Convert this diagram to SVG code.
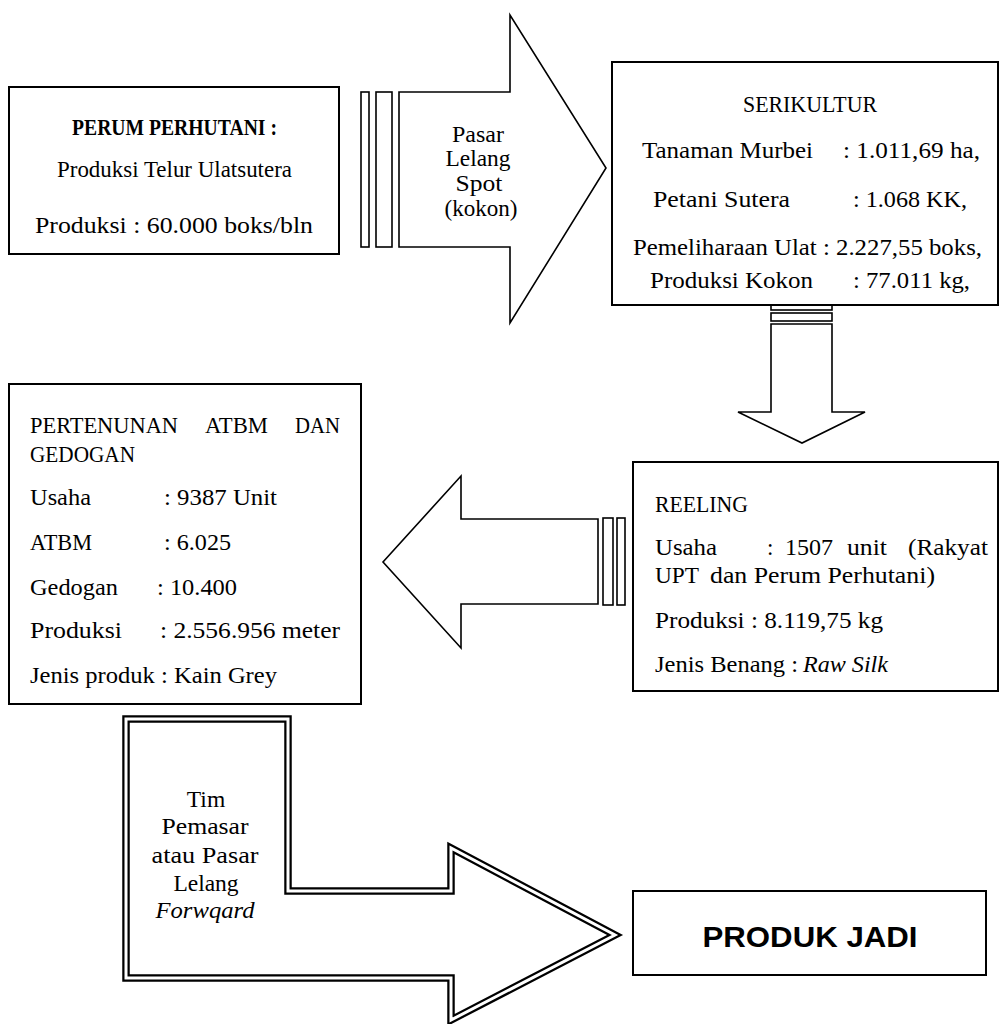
<svg xmlns="http://www.w3.org/2000/svg" width="1000" height="1024" viewBox="0 0 1000 1024">
<style>
.box{fill:#fff;stroke:#000;stroke-width:2}
.arr{fill:#fff;stroke:#000;stroke-width:1.6;stroke-linejoin:miter}
.t{font-family:"Liberation Serif","Times New Roman",serif;font-size:23px;fill:#000}
.lbl{font-family:"Liberation Serif","Times New Roman",serif;font-size:23.5px;fill:#000;text-anchor:middle}
</style>
<rect width="1000" height="1024" fill="#fff"/>
<g id="connectors">
  <g id="arrow-perum-serikultur">
    <rect class="arr" x="361" y="92" width="8" height="155"/>
    <rect class="arr" x="376" y="92" width="16" height="155"/>
    <polygon class="arr" points="399,92 510,92 510,15 606,168 510,323 510,247 399,247"/>
    <text class="lbl" x="478" y="142" textLength="52" lengthAdjust="spacingAndGlyphs">Pasar</text>
    <text class="lbl" x="478" y="166" textLength="65" lengthAdjust="spacingAndGlyphs">Lelang</text>
    <text class="lbl" x="479" y="191" textLength="47" lengthAdjust="spacingAndGlyphs">Spot</text>
    <text class="lbl" x="481" y="216" textLength="73" lengthAdjust="spacingAndGlyphs">(kokon)</text>
  </g>
  <g id="arrow-serikultur-reeling">
    <rect class="arr" x="771" y="304" width="61" height="6"/>
    <rect class="arr" x="771" y="313" width="61" height="8"/>
    <polygon class="arr" points="771,324 832,324 832,412 865,412 802,443 738,412 771,412"/>
  </g>
  <g id="arrow-reeling-pertenunan">
    <rect class="arr" x="603" y="518" width="10" height="87"/>
    <rect class="arr" x="617" y="518" width="8" height="87"/>
    <polygon class="arr" points="598,519 461,519 461,476 383,562 461,648 461,604 598,604"/>
  </g>
  <g id="arrow-pertenunan-produk">
    <polygon points="126,719 288,719 288,891 451,891 451,848 615,935 451,1020 451,978 126,978" fill="#fff" stroke="#000" stroke-width="7.5" stroke-linejoin="miter"/>
    <polygon points="126,719 288,719 288,891 451,891 451,848 615,935 451,1020 451,978 126,978" fill="none" stroke="#fff" stroke-width="3" stroke-linejoin="miter"/>
    <text class="lbl" x="206" y="807">Tim</text>
    <text class="lbl" x="205" y="834" textLength="87" lengthAdjust="spacingAndGlyphs">Pemasar</text>
    <text class="lbl" x="205" y="863" textLength="107" lengthAdjust="spacingAndGlyphs">atau Pasar</text>
    <text class="lbl" x="206" y="891">Lelang</text>
    <text class="lbl" x="205" y="918" font-style="italic" textLength="99" lengthAdjust="spacingAndGlyphs">Forwqard</text>
  </g>
</g>
<g id="perum-perhutani">
  <rect class="box" x="9" y="87" width="330" height="167"/>
  <text class="t" x="72" y="135" font-size="18.5" font-weight="bold" textLength="205" lengthAdjust="spacingAndGlyphs">PERUM PERHUTANI :</text>
  <text class="t" x="57" y="177" font-size="20.5" textLength="235" lengthAdjust="spacingAndGlyphs">Produksi Telur Ulatsutera</text>
  <text class="t" x="35" y="233" font-size="24" textLength="278" lengthAdjust="spacingAndGlyphs">Produksi : 60.000 boks/bln</text>
</g>
<g id="serikultur">
  <rect class="box" x="612" y="62" width="386" height="243"/>
  <text class="t" x="743" y="112" textLength="134" lengthAdjust="spacingAndGlyphs">SERIKULTUR</text>
  <text class="t" x="642" y="158" textLength="171" lengthAdjust="spacingAndGlyphs">Tanaman Murbei</text>
  <text class="t" x="843" y="158" textLength="137" lengthAdjust="spacingAndGlyphs">: 1.011,69 ha,</text>
  <text class="t" x="653" y="207" textLength="137" lengthAdjust="spacingAndGlyphs">Petani Sutera</text>
  <text class="t" x="853" y="207" textLength="114" lengthAdjust="spacingAndGlyphs">: 1.068 KK,</text>
  <text class="t" x="633" y="255" textLength="349" lengthAdjust="spacingAndGlyphs">Pemeliharaan Ulat : 2.227,55 boks,</text>
  <text class="t" x="650" y="288" textLength="163" lengthAdjust="spacingAndGlyphs">Produksi Kokon</text>
  <text class="t" x="853" y="288" textLength="117" lengthAdjust="spacingAndGlyphs">: 77.011 kg,</text>
</g>
<g id="reeling">
  <rect class="box" x="633" y="462" width="365" height="229"/>
  <text class="t" x="655" y="512" textLength="93" lengthAdjust="spacingAndGlyphs">REELING</text>
  <text class="t" x="655" y="555" textLength="62" lengthAdjust="spacingAndGlyphs">Usaha</text>
  <text class="t" x="767" y="555">:</text>
  <text class="t" x="785" y="555" textLength="48" lengthAdjust="spacingAndGlyphs">1507</text>
  <text class="t" x="847" y="555" textLength="40" lengthAdjust="spacingAndGlyphs">unit</text>
  <text class="t" x="908" y="555" textLength="80" lengthAdjust="spacingAndGlyphs">(Rakyat</text>
  <text class="t" x="655" y="583" textLength="44" lengthAdjust="spacingAndGlyphs">UPT</text>
  <text class="t" x="710" y="583" textLength="225" lengthAdjust="spacingAndGlyphs">dan Perum Perhutani)</text>
  <text class="t" x="655" y="628" textLength="228" lengthAdjust="spacingAndGlyphs">Produksi : 8.119,75 kg</text>
  <text class="t" x="655" y="672" textLength="143" lengthAdjust="spacingAndGlyphs">Jenis Benang :</text>
  <text class="t" x="803" y="672" font-style="italic" textLength="85" lengthAdjust="spacingAndGlyphs">Raw Silk</text>
</g>
<g id="pertenunan">
  <rect class="box" x="9" y="384" width="352" height="320"/>
  <text class="t" x="30" y="433" textLength="148" lengthAdjust="spacingAndGlyphs">PERTENUNAN</text>
  <text class="t" x="205" y="433" textLength="63" lengthAdjust="spacingAndGlyphs">ATBM</text>
  <text class="t" x="295" y="433" textLength="45" lengthAdjust="spacingAndGlyphs">DAN</text>
  <text class="t" x="30" y="462" textLength="105" lengthAdjust="spacingAndGlyphs">GEDOGAN</text>
  <text class="t" x="30" y="505" textLength="61" lengthAdjust="spacingAndGlyphs">Usaha</text>
  <text class="t" x="164" y="505" textLength="113" lengthAdjust="spacingAndGlyphs">: 9387 Unit</text>
  <text class="t" x="30" y="550" textLength="62" lengthAdjust="spacingAndGlyphs">ATBM</text>
  <text class="t" x="164" y="550" textLength="67" lengthAdjust="spacingAndGlyphs">: 6.025</text>
  <text class="t" x="30" y="595" textLength="88" lengthAdjust="spacingAndGlyphs">Gedogan</text>
  <text class="t" x="157" y="595" textLength="80" lengthAdjust="spacingAndGlyphs">: 10.400</text>
  <text class="t" x="30" y="638" textLength="92" lengthAdjust="spacingAndGlyphs">Produksi</text>
  <text class="t" x="160" y="638" textLength="180" lengthAdjust="spacingAndGlyphs">: 2.556.956 meter</text>
  <text class="t" x="30" y="683" textLength="247" lengthAdjust="spacingAndGlyphs">Jenis produk : Kain Grey</text>
</g>
<g id="produk-jadi">
  <rect class="box" x="633" y="891" width="353" height="84"/>
  <text x="810" y="947" text-anchor="middle" font-family="Liberation Sans, Arial, sans-serif" font-size="30" font-weight="bold" textLength="215" lengthAdjust="spacingAndGlyphs">PRODUK JADI</text>
</g>
</svg>
